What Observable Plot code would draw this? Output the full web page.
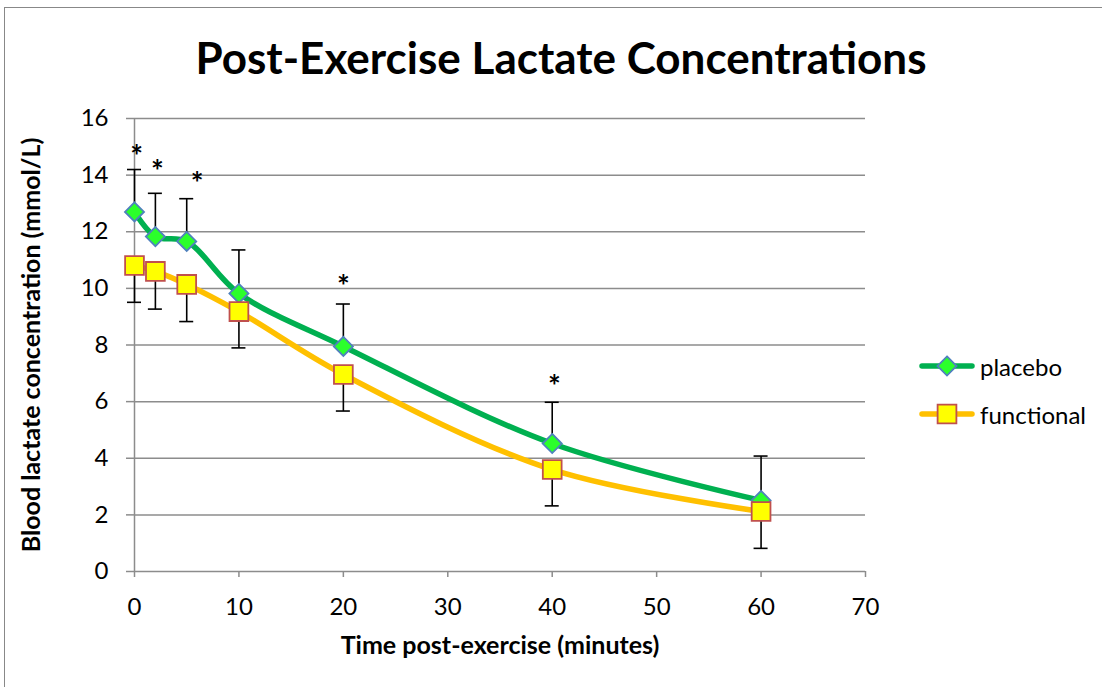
<!DOCTYPE html>
<html>
<head>
<meta charset="utf-8">
<script src="https://cdn.jsdelivr.net/npm/d3@7"></script>
<script src="https://cdn.jsdelivr.net/npm/@observablehq/plot@0.6"></script>
<style>
  html, body { margin: 0; padding: 0; background: #fff; }
  #wrap { position: relative; width: 1102px; height: 687px; overflow: hidden; font-family: Lato, "Open Sans", sans-serif; }
  #frame { position: absolute; left: 4px; top: 7px; width: 1200px; height: 800px; border-left: 1.5px solid #888; border-top: 1.5px solid #888; }
  #title { position: absolute; left: 0; width: 1122px; top: 31px; text-align: center; font-weight: bold; font-size: 44px; color: #000; }
  #chart { position: absolute; left: 0; top: 0; }
  #legend { position: absolute; left: 918px; top: 350px; font-size: 24px; color: #000; }
  .lg { display: flex; align-items: center; height: 32px; margin-bottom: 16px; }
  .lg svg { margin-right: 4px; }
  g[aria-label="x-axis label"] text, g[aria-label="y-axis label"] text { font-weight: bold; font-size: 25px; }
</style>
</head>
<body>
<div id="wrap">
  <div id="frame"></div>
  <div id="chart"></div>
  <div id="title">Post-Exercise Lactate Concentrations</div>
  <div id="legend"></div>
</div>
<script>
// ---- data ----
const times = [0, 2, 5, 10, 20, 40, 60];
const placebo = [12.7, 11.83, 11.66, 9.82, 7.95, 4.52, 2.51];
const functional = [10.81, 10.6, 10.14, 9.18, 6.96, 3.6, 2.12];
const placeboErr = [1.48, 1.51, 1.49, 1.52, 1.48, 1.44, 1.55];
const functionalErr = [1.32, 1.35, 1.33, 1.30, 1.31, 1.30, 1.32];
const sigX = [0.2, 2.2, 6.0, 20, 40.2];
const sigY = [14.87, 14.34, 13.92, 10.28, 6.75];
const xTicks = [0, 10, 20, 30, 40, 50, 60, 70];
const yTicks = [0, 2, 4, 6, 8, 10, 12, 14, 16];
const seriesNames = ["placebo", "functional"];
const xTitle = "Time post-exercise (minutes)";
const yTitle = "Blood lactate concentration (mmol/L)";

const pData = times.map((t, i) => ({t, v: placebo[i], hi: placebo[i] + placeboErr[i]}));
const fData = times.map((t, i) => ({t, v: functional[i], lo: functional[i] - functionalErr[i]}));
const stars = sigX.map((x, i) => ({x, y: sigY[i]}));

const green = "#00b050", greenFill = "#2bff2b", blueEdge = "#4f81bd";
const orange = "#ffc000", yellowFill = "#ffff00", redEdge = "#c0504d";

const chart = Plot.plot({
  width: 1102,
  height: 687,
  marginLeft: 134,
  marginRight: 237,
  marginTop: 118,
  marginBottom: 116,
  style: {fontFamily: "Lato, 'Open Sans', sans-serif", fontSize: "24px", color: "#000", background: "transparent"},
  x: {domain: [0, 70], ticks: xTicks},
  y: {domain: [0, 16], ticks: yTicks},
  marks: [
    Plot.gridY(yTicks, {stroke: "#8c8c8c", strokeOpacity: 1, strokeWidth: 1.5}),
    Plot.ruleX([0], {stroke: "#8c8c8c", strokeWidth: 1.5}),
    Plot.axisX({ticks: xTicks, tickSize: 6, tickPadding: 20, stroke: "#8c8c8c", strokeWidth: 1.5, label: xTitle, labelAnchor: "center", labelArrow: "none", labelOffset: 82}),
    Plot.axisY({ticks: yTicks, tickSize: 8, tickPadding: 18, stroke: "#8c8c8c", strokeWidth: 1.5, label: yTitle, labelAnchor: "center", labelArrow: "none", labelOffset: 112}),
    // error bars
    Plot.ruleX(pData, {x: "t", y1: "v", y2: "hi", stroke: "#000", strokeWidth: 1.6}),
    Plot.ruleX(fData, {x: "t", y1: "v", y2: "lo", stroke: "#000", strokeWidth: 1.6}),
    // lines
    Plot.line(pData, {x: "t", y: "v", curve: "catmull-rom", stroke: green, strokeWidth: 5.5}),
    Plot.line(fData, {x: "t", y: "v", curve: "catmull-rom", stroke: orange, strokeWidth: 5.5}),
    // markers
    Plot.dot(pData, {x: "t", y: "v", symbol: "diamond2", r: 8.6, fill: greenFill, stroke: blueEdge, strokeWidth: 1.8}),
    Plot.dot(fData, {x: "t", y: "v", symbol: "square", r: 10.6, fill: yellowFill, stroke: redEdge, strokeWidth: 1.8}),
    // significance asterisks
    Plot.text(stars, {x: "x", y: "y", text: () => "*", fontSize: 30, fontWeight: "bold", fill: "#000", dy: 7})
  ]
});
document.getElementById("chart").appendChild(chart);

// error bar caps (positions from Plot's scales)
const xs = chart.scale("x"), ys = chart.scale("y");
const svg = d3.select(chart);
const capG = svg.append("g").attr("stroke", "#000").attr("stroke-width", 1.6);
pData.forEach(d => capG.append("line").attr("x1", xs.apply(d.t) - 7).attr("x2", xs.apply(d.t) + 7).attr("y1", ys.apply(d.hi)).attr("y2", ys.apply(d.hi)));
fData.forEach(d => capG.append("line").attr("x1", xs.apply(d.t) - 7).attr("x2", xs.apply(d.t) + 7).attr("y1", ys.apply(d.lo)).attr("y2", ys.apply(d.lo)));

// legend
const legend = document.getElementById("legend");
const lgSpec = [
  {name: seriesNames[0], line: green, sym: "diamond2", fill: greenFill, edge: blueEdge, r: 8.6},
  {name: seriesNames[1], line: orange, sym: "square", fill: yellowFill, edge: redEdge, r: 10.6}
];
lgSpec.forEach(s => {
  const row = document.createElement("div");
  row.className = "lg";
  const sym = s.sym === "square" ? d3.symbolSquare : d3.symbolDiamond2;
  const path = d3.symbol(sym, Math.PI * s.r * s.r)();
  row.innerHTML = `<svg width="58" height="32"><line x1="4" x2="54" y1="16" y2="16" stroke="${s.line}" stroke-width="5.5" stroke-linecap="round"/><path d="${path}" transform="translate(29,16)" fill="${s.fill}" stroke="${s.edge}" stroke-width="1.8"/></svg><span>${s.name}</span>`;
  legend.appendChild(row);
});
</script>
</body>
</html>
